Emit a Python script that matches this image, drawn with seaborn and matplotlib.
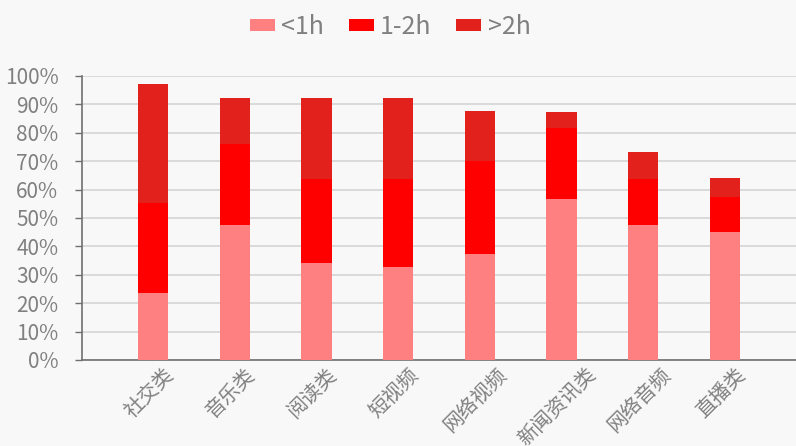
import matplotlib
matplotlib.use("Agg")
import matplotlib.pyplot as plt
from matplotlib.patches import Patch
from matplotlib.ticker import FuncFormatter, MultipleLocator
from matplotlib.transforms import ScaledTranslation
import seaborn as sns
import pandas as pd
import numpy as np

# App categories and share of users by daily usage time (%)
categories = ["社交类", "音乐类", "阅读类", "短视频", "网络视频", "新闻资讯类", "网络音频", "直播类"]
under_1h = [23.6, 47.4, 34.3, 32.8, 37.3, 56.7, 47.4, 44.9]
between_1_2h = [31.7, 28.7, 29.4, 30.9, 32.7, 24.9, 16.3, 12.5]
over_2h = [41.8, 16.0, 28.4, 28.4, 17.8, 5.8, 9.5, 6.7]
series_names = ["<1h", "1-2h", ">2h"]
colors = ["#ff8080", "#ff0000", "#e2211c"]

sns.set_theme(style="white")
plt.rcParams["font.family"] = ["Noto Sans CJK SC", "DejaVu Sans"]
text_grey = "#808080"
bg = "#f8f8f8"

df = pd.DataFrame({
    "category": categories,
    "lt1": under_1h,
    "mid": between_1_2h,
    "gt2": over_2h,
})
df["top_lt1"] = df["lt1"]
df["top_mid"] = df["lt1"] + df["mid"]
df["top_gt2"] = df["top_mid"] + df["gt2"]

fig = plt.figure(figsize=(7.96, 4.46), dpi=100, facecolor=bg)
ax = fig.add_axes([82 / 796, 1 - 360 / 446, 1 - 82 / 796, (360 - 76) / 446])
ax.set_facecolor(bg)

# Stacked bars: draw cumulative totals from the top layer down
for col, color in zip(["top_gt2", "top_mid", "top_lt1"], colors[::-1]):
    sns.barplot(data=df, x="category", y=col, order=categories, color=color,
                saturation=1, width=0.37, ax=ax, zorder=3, linewidth=0)

ax.set_ylim(0, 100)
ax.set_xlim(-0.87, len(categories) - 0.13)
ax.yaxis.set_major_locator(MultipleLocator(10))
ax.yaxis.set_major_formatter(FuncFormatter(lambda v, _: f"{v:.0f}%"))
ax.grid(axis="y", color="#d4d4d4", linewidth=1.2, zorder=0)
ax.set_xlabel("")
ax.set_ylabel("")

for side in ["top", "right"]:
    ax.spines[side].set_visible(False)
for side in ["left", "bottom"]:
    ax.spines[side].set_color("#707070")
    ax.spines[side].set_linewidth(1.2)

ax.tick_params(axis="y", colors=text_grey, labelsize=15, length=5, width=1, pad=12,
               direction="out", left=True)
ax.tick_params(axis="y", color="#707070")
ax.tick_params(axis="x", colors=text_grey, labelsize=14.5, length=0, pad=3)
shift = ScaledTranslation(-4 / 100, 0, fig.dpi_scale_trans)
for lbl in ax.get_xticklabels():
    lbl.set_rotation(45)
    lbl.set_ha("center")
    lbl.set_va("top")
    lbl.set_transform(lbl.get_transform() + shift)

handles = [Patch(facecolor=c, edgecolor="none", label=n) for c, n in zip(colors, series_names)]
leg = fig.legend(handles=handles, loc="center", bbox_to_anchor=(0.49, 1 - 27 / 446), ncol=3,
                 frameon=False, fontsize=18, handlelength=1.0, handleheight=0.4,
                 handletextpad=0.25, columnspacing=1.0)
for t in leg.get_texts():
    t.set_color(text_grey)

fig.savefig("out.png", dpi=100, facecolor=bg)
